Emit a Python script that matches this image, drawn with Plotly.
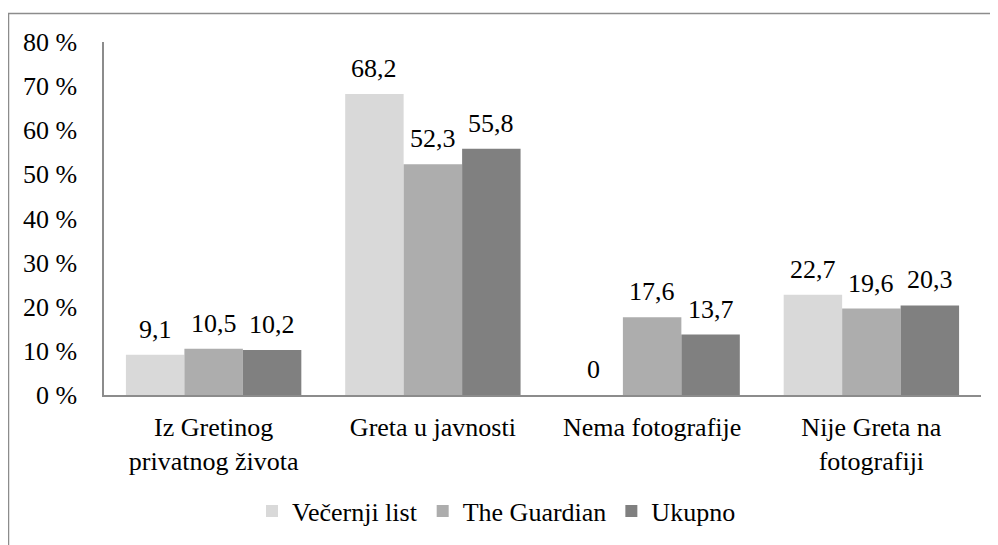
import plotly.graph_objects as go

categories = ["Iz Gretinog<br>privatnog života", "Greta u javnosti", "Nema fotografije", "Nije Greta na<br>fotografiji"]
series_names = ["Večernji list", "The Guardian", "Ukupno"]
vecernji = [9.1, 68.2, 0, 22.7]
guardian = [10.5, 52.3, 17.6, 19.6]
ukupno = [10.2, 55.8, 13.7, 20.3]
y_ticks = [0, 10, 20, 30, 40, 50, 60, 70, 80]
y_tick_labels = ["0 %", "10 %", "20 %", "30 %", "40 %", "50 %", "60 %", "70 %", "80 %"]

colors = ["#D9D9D9", "#ADADAD", "#808080"]
FONT = "Liberation Serif"
FS = 26

# page body has an 8px default margin: figure is sized/offset to compensate
W, H = 990, 537
L, R, T, B = 96, 17, 34, 150
PW, PH = W - L - R, H - T - B


def px_x(px):  # page pixel -> paper x
    return (px - 8 - L) / PW


def px_y(py):  # page pixel -> paper y
    return (H - B - (py - 8)) / PH


fig = go.Figure()
all_series = [vecernji, guardian, ukupno]
for name, vals, col in zip(series_names, all_series, colors):
    fig.add_trace(go.Bar(
        x=categories, y=vals, name=name, marker=dict(color=col, line=dict(width=0)),
        offsetgroup=name,
    ))

# data labels as annotations above the bars
n = len(series_names)
for si, vals in enumerate(all_series):
    for ci, v in enumerate(vals):
        xpos = ci - 0.5 * 0.8 + (si + 0.5) * 0.8 / n
        fig.add_annotation(
            x=xpos, y=v, xref="x", yref="y", text=f"{v:g}".replace(".", ","),
            showarrow=False, yanchor="bottom", yshift=9,
            font=dict(family=FONT, size=FS, color="#000000"),
        )

fig.update_layout(
    width=W, height=H,
    margin=dict(l=L, r=R, t=T, b=B, autoexpand=False),
    paper_bgcolor="white", plot_bgcolor="white",
    barmode="group", bargap=0.2, bargroupgap=0,
    font=dict(family=FONT, size=FS, color="#000000"),
    showlegend=True,
    legend=dict(orientation="h", x=px_x(252), xanchor="left", y=px_y(511), yanchor="middle",
                font=dict(family=FONT, size=FS, color="#000000"),
                itemwidth=30, traceorder="normal", bgcolor="rgba(0,0,0,0)"),
    shapes=[dict(type="rect", xref="paper", yref="paper",
                 x0=px_x(8.5), x1=1.2, y0=-0.8, y1=px_y(13.5),
                 line=dict(color="#8C8C8C", width=1.5), layer="below")],
)
fig.update_xaxes(
    type="category", range=[-0.5, 3.5],
    showline=True, linecolor="#8C8C8C", linewidth=1.5, ticks="",
    showgrid=False, ticklabelstandoff=8,
    tickfont=dict(family=FONT, size=FS, color="#000000"),
)
fig.update_yaxes(
    range=[0, 80], tickvals=y_ticks, ticktext=y_tick_labels,
    showline=True, linecolor="#8C8C8C", linewidth=1.5, ticks="",
    showgrid=False, zeroline=False, ticklabelstandoff=20,
    tickfont=dict(family=FONT, size=FS, color="#000000"),
)

fig.write_html("out.html")
